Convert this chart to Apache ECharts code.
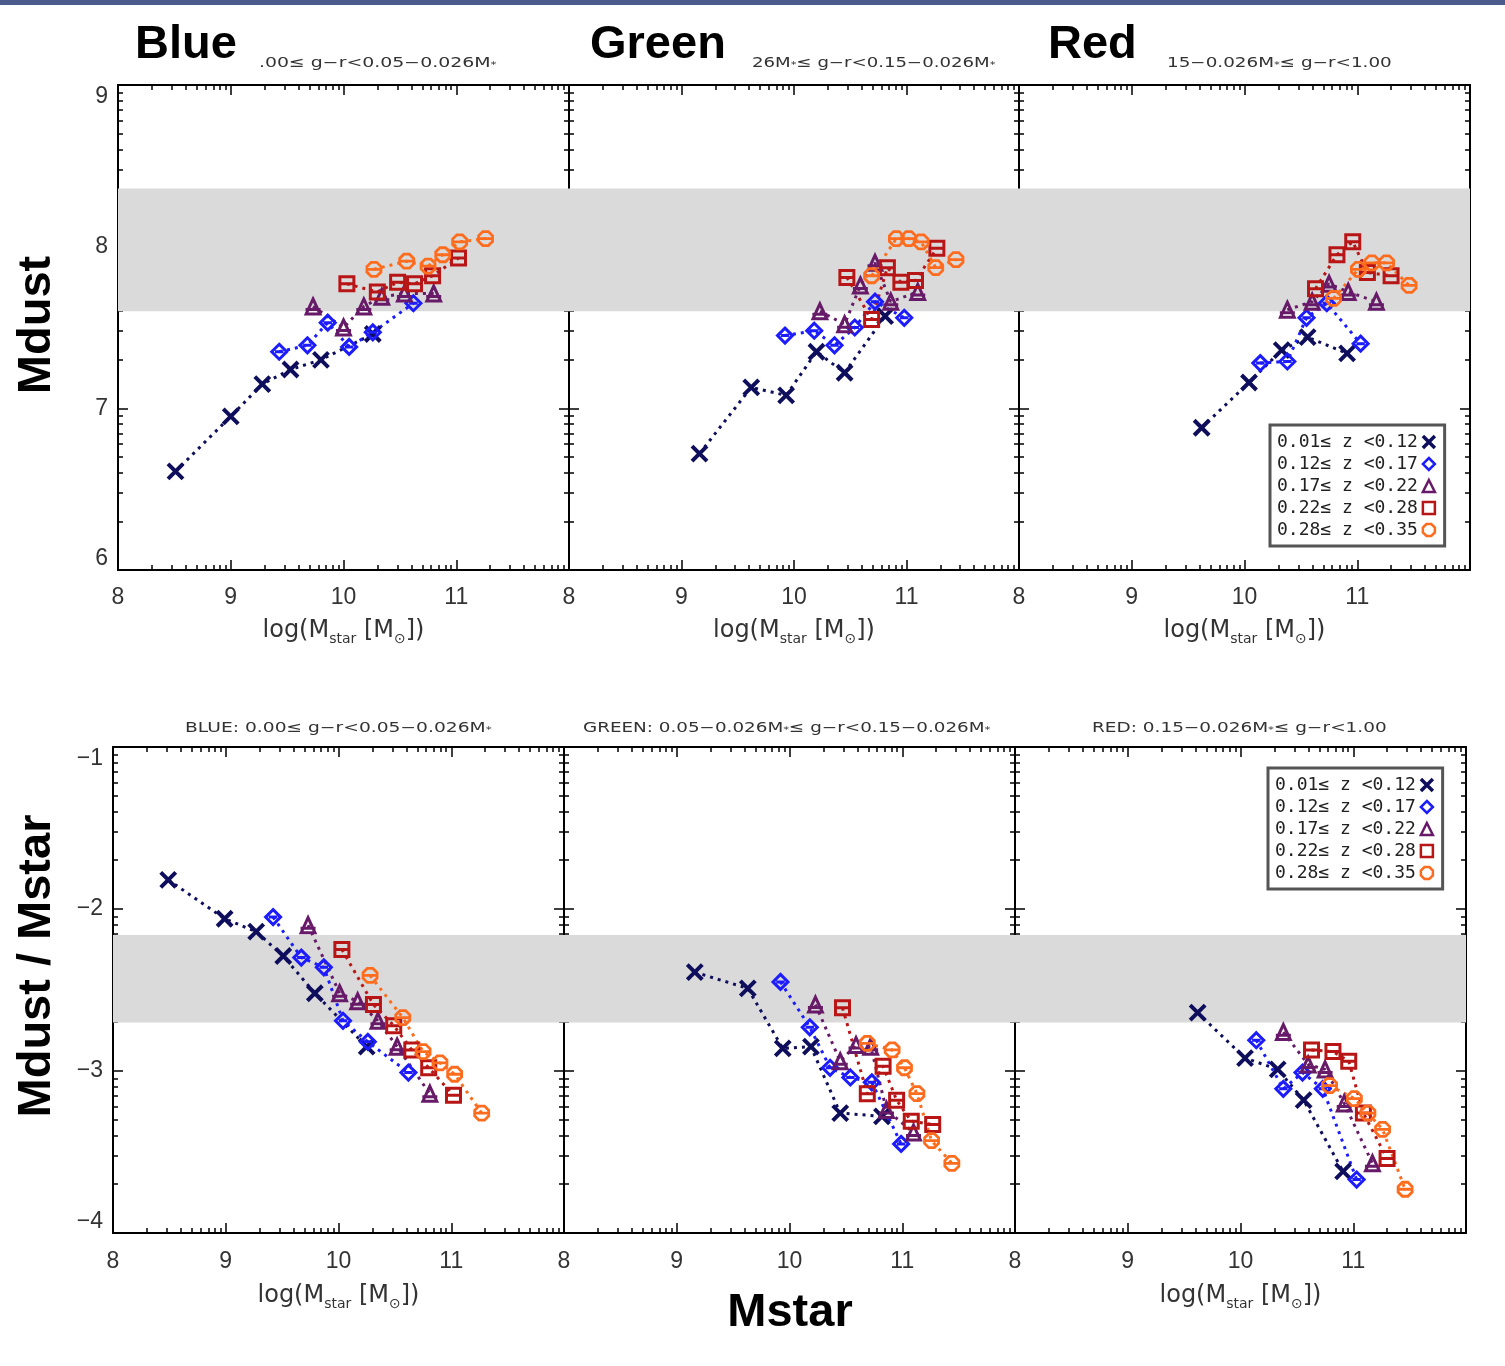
<!DOCTYPE html>
<html><head><meta charset="utf-8">
<script src="https://cdn.jsdelivr.net/npm/echarts@6/dist/echarts.min.js"></script>
<style>html,body{margin:0;padding:0;background:#fff}#c{width:1505px;height:1366px}</style>
</head><body><div id="c"></div>
<script>
// ---------------- DATA ----------------
const zBins = ['0.01\u2264 z <0.12', '0.12\u2264 z <0.17', '0.17\u2264 z <0.22', '0.22\u2264 z <0.28', '0.28\u2264 z <0.35'];
const panelNames = ['Blue', 'Green', 'Red'];
const topSubtitles = ['.00\u2264 g\u2212r<0.05\u22120.026M*', '26M*\u2264 g\u2212r<0.15\u22120.026M*', '15\u22120.026M*\u2264 g\u2212r<1.00'];
const bottomTitles = ['BLUE: 0.00\u2264 g\u2212r<0.05\u22120.026M*', 'GREEN: 0.05\u22120.026M*\u2264 g\u2212r<0.15\u22120.026M*', 'RED: 0.15\u22120.026M*\u2264 g\u2212r<1.00'];
const xTickLabels = [8, 9, 10, 11];
const xMajorTicks = [8, 9, 10, 11, 12];
const yTopTicks = [6, 7, 8, 9];
const yBottomTicks = [-4, -3, -2, -1];
const bandTop = [7.60, 8.36];
const bandBottom = [-2.70, -2.16];

// Top row: log Mstar (x) and log Mdust (y), one list per z bin
const blueTopMstar = [
  [8.51, 9.00, 9.28, 9.53, 9.80, 10.26],
  [9.43, 9.68, 9.86, 10.05, 10.26, 10.62],
  [9.73, 10.00, 10.18, 10.34, 10.54, 10.80],
  [10.03, 10.30, 10.48, 10.63, 10.79, 11.02],
  [10.27, 10.56, 10.75, 10.88, 11.03, 11.26]];
const blueTopMdust = [
  [6.61, 6.95, 7.15, 7.24, 7.30, 7.46],
  [7.35, 7.39, 7.53, 7.38, 7.47, 7.65],
  [7.63, 7.50, 7.63, 7.69, 7.71, 7.71],
  [7.77, 7.72, 7.78, 7.77, 7.82, 7.93],
  [7.86, 7.91, 7.88, 7.95, 8.03, 8.05]];
const greenTopMstar = [
  [9.16, 9.62, 9.93, 10.20, 10.45, 10.81],
  [9.92, 10.18, 10.36, 10.54, 10.72, 10.98],
  [10.23, 10.45, 10.59, 10.72, 10.86, 11.10],
  [10.47, 10.69, 10.83, 10.95, 11.08, 11.27],
  [10.69, 10.91, 11.02, 11.13, 11.26, 11.44]];
const greenTopMdust = [
  [6.72, 7.13, 7.08, 7.35, 7.22, 7.57],
  [7.45, 7.48, 7.39, 7.50, 7.66, 7.56],
  [7.60, 7.52, 7.76, 7.90, 7.66, 7.72],
  [7.81, 7.55, 7.87, 7.78, 7.79, 7.99],
  [7.82, 8.05, 8.05, 8.03, 7.87, 7.92]];
const redTopMstar = [
  [9.62, 10.04, 10.33, 10.56, 10.91],
  [10.14, 10.38, 10.55, 10.73, 11.03],
  [10.38, 10.60, 10.75, 10.92, 11.17],
  [10.63, 10.82, 10.96, 11.09, 11.30],
  [10.79, 11.01, 11.13, 11.26, 11.46]];
const redTopMdust = [
  [6.88, 7.16, 7.36, 7.44, 7.34],
  [7.28, 7.29, 7.56, 7.65, 7.40],
  [7.61, 7.66, 7.77, 7.72, 7.66],
  [7.74, 7.95, 8.03, 7.84, 7.82],
  [7.68, 7.86, 7.90, 7.90, 7.76]];

// Bottom row: log Mstar (x) and log(Mdust/Mstar) (y)
const blueBotMstar = [
  [8.49, 8.99, 9.27, 9.51, 9.79, 10.25],
  [9.42, 9.67, 9.87, 10.04, 10.26, 10.62],
  [9.73, 10.01, 10.17, 10.35, 10.52, 10.81],
  [10.03, 10.31, 10.49, 10.65, 10.80, 11.02],
  [10.28, 10.57, 10.75, 10.90, 11.03, 11.27]];
const blueBotRatio = [
  [-1.82, -2.06, -2.14, -2.29, -2.52, -2.85],
  [-2.05, -2.30, -2.36, -2.69, -2.82, -3.01],
  [-2.10, -2.52, -2.57, -2.69, -2.85, -3.14],
  [-2.25, -2.59, -2.72, -2.87, -2.98, -3.15],
  [-2.41, -2.67, -2.88, -2.95, -3.02, -3.26]];
const greenBotMstar = [
  [9.16, 9.63, 9.94, 10.19, 10.45, 10.82],
  [9.92, 10.18, 10.36, 10.54, 10.73, 10.99],
  [10.23, 10.45, 10.59, 10.72, 10.86, 11.10],
  [10.47, 10.69, 10.83, 10.95, 11.08, 11.27],
  [10.69, 10.91, 11.02, 11.13, 11.26, 11.44]];
const greenBotRatio = [
  [-2.39, -2.49, -2.86, -2.85, -3.26, -3.28],
  [-2.45, -2.73, -2.98, -3.04, -3.07, -3.45],
  [-2.59, -2.94, -2.84, -2.85, -3.24, -3.38],
  [-2.61, -3.14, -2.97, -3.18, -3.31, -3.33],
  [-2.83, -2.87, -2.98, -3.14, -3.43, -3.57]];
const redBotMstar = [
  [9.62, 10.04, 10.33, 10.56, 10.91],
  [10.14, 10.38, 10.55, 10.73, 11.03],
  [10.38, 10.60, 10.75, 10.92, 11.17],
  [10.63, 10.82, 10.96, 11.09, 11.30],
  [10.79, 11.01, 11.13, 11.26, 11.46]];
const redBotRatio = [
  [-2.64, -2.92, -2.99, -3.18, -3.62],
  [-2.81, -3.11, -3.01, -3.11, -3.67],
  [-2.76, -2.96, -2.99, -3.20, -3.57],
  [-2.87, -2.88, -2.94, -3.26, -3.54],
  [-3.09, -3.17, -3.26, -3.36, -3.73]];

// ---------------- STYLE / LAYOUT ----------------
const binColors = ['#0e0e5c', '#1c1cff', '#661a68', '#b81616', '#ff6c1e'];
const binSymbols = [
  'path://M0,0L10,10M10,0L0,10',
  'path://M5,0L10,5L5,10L0,5Z M2.2,5H7.8',
  'path://M5,0L9.6,9.4L0.4,9.4Z M0,6.6H10',
  'path://M0,0H10V10H0Z M0,5H10',
  'path://M3,0H7L10,3V7L7,10H3L0,7V3Z M1,5H9'
];
const legendIcons = [
  'path://M0,0L10,10M10,0L0,10',
  'diamond',
  'triangle',
  'rect',
  'path://M3,0H7L10,3V7L7,10H3L0,7V3Z'
];
const binSizes = [15, 15, 15, 14, 14];
const binBorder = [4, 3, 3, 3, 2.8];

const grids = [
  {left: 118, top: 85, width: 451, height: 485},
  {left: 569, top: 85, width: 450, height: 485},
  {left: 1019, top: 85, width: 451, height: 485},
  {left: 113, top: 747, width: 451, height: 486},
  {left: 564, top: 747, width: 451, height: 486},
  {left: 1015, top: 747, width: 451, height: 486}
];
const panels = [
  {mstar: blueTopMstar, val: blueTopMdust, yr: [6, 9], ticks: yTopTicks, band: bandTop},
  {mstar: greenTopMstar, val: greenTopMdust, yr: [6, 9], ticks: yTopTicks, band: bandTop},
  {mstar: redTopMstar, val: redTopMdust, yr: [6, 9], ticks: yTopTicks, band: bandTop},
  {mstar: blueBotMstar, val: blueBotRatio, yr: [-4, -1], ticks: yBottomTicks, band: bandBottom},
  {mstar: greenBotMstar, val: greenBotRatio, yr: [-4, -1], ticks: yBottomTicks, band: bandBottom},
  {mstar: redBotMstar, val: redBotRatio, yr: [-4, -1], ticks: yBottomTicks, band: bandBottom}
];

function logMinors(lo, hi) {
  const out = [];
  for (let d = lo; d < hi; d++) for (let k = 2; k <= 9; k++) out.push(d + Math.log10(k));
  return out;
}
const xMinorTicks = logMinors(8, 12);

const tickFont = 'Liberation Sans';
const xAxis = [], yAxis = [], series = [];
const axLine = {onZero: false, lineStyle: {color: '#000', width: 2}};
const tickLine = {color: '#000', width: 1.5};

panels.forEach((p, gi) => {
  const isBottomRow = gi >= 3;
  const nameRich = {
    b: {fontSize: 24, fontFamily: 'DejaVu Sans', color: '#333', lineHeight: 30, verticalAlign: 'middle'},
    s: {fontSize: 14, fontFamily: 'DejaVu Sans', color: '#333', lineHeight: 15, verticalAlign: 'bottom'}
  };
  // x axes: major bottom (labels), major top, minor x2
  xAxis.push({
    gridIndex: gi, type: 'value', min: 8, max: 12, position: 'bottom',
    axisLine: axLine, splitLine: {show: false},
    axisTick: {inside: true, length: 10, customValues: xMajorTicks, lineStyle: tickLine},
    axisLabel: {customValues: xTickLabels, fontSize: 23, fontFamily: tickFont, color: '#333', margin: isBottomRow ? 17 : 16},
    name: gi === 4 ? '' : '{b|log(M}{s|star}{b| [M}{s|\u2299}{b|])}', nameLocation: 'middle', nameGap: isBottomRow ? 48 : 46,
    nameTextStyle: {rich: nameRich}
  });
  xAxis.push({
    gridIndex: gi, type: 'value', min: 8, max: 12, position: 'top',
    axisLine: axLine, splitLine: {show: false},
    axisTick: {inside: true, length: 10, customValues: xMajorTicks, lineStyle: tickLine},
    axisLabel: {show: false}
  });
  for (let k = 0; k < 2; k++) xAxis.push({
    gridIndex: gi, type: 'value', min: 8, max: 12, position: k ? 'top' : 'bottom',
    axisLine: {show: false}, splitLine: {show: false},
    axisTick: {inside: true, length: 5, customValues: xMinorTicks, lineStyle: tickLine},
    axisLabel: {show: false}
  });
  // y axes
  const yMinor = logMinors(p.yr[0], p.yr[1]);
  const showY = (gi % 3) === 0;
  yAxis.push({
    gridIndex: gi, type: 'value', min: p.yr[0], max: p.yr[1], position: 'left',
    axisLine: axLine, splitLine: {show: false},
    axisTick: {inside: true, length: 10, customValues: p.ticks, lineStyle: tickLine},
    axisLabel: {show: showY, customValues: p.ticks, fontSize: 23, fontFamily: tickFont, color: '#333', margin: 10,
      verticalAlignMinLabel: 'bottom', verticalAlignMaxLabel: 'top',
      formatter: v => String(v).replace('-', '\u2212')}
  });
  yAxis.push({
    gridIndex: gi, type: 'value', min: p.yr[0], max: p.yr[1], position: 'right',
    axisLine: axLine, splitLine: {show: false},
    axisTick: {inside: true, length: 10, customValues: p.ticks, lineStyle: tickLine},
    axisLabel: {show: false}
  });
  for (let k = 0; k < 2; k++) yAxis.push({
    gridIndex: gi, type: 'value', min: p.yr[0], max: p.yr[1], position: k ? 'right' : 'left',
    axisLine: {show: false}, splitLine: {show: false},
    axisTick: {inside: true, length: 5, customValues: yMinor, lineStyle: tickLine},
    axisLabel: {show: false}
  });

  // grey reference band
  series.push({
    type: 'scatter', name: 'band' + gi, xAxisIndex: gi * 4, yAxisIndex: gi * 4, data: [], silent: true, z: 1,
    markArea: {silent: true, itemStyle: {color: '#dadada'}, data: [[{yAxis: p.band[0]}, {yAxis: p.band[1]}]]}
  });

  for (let b = 0; b < 5; b++) {
    const data = p.mstar[b].map((x, i) => [x, p.val[b][i]]);
    series.push({
      type: 'line', name: 'line' + gi + '_' + b, xAxisIndex: gi * 4, yAxisIndex: gi * 4,
      data: data, symbol: 'none', showSymbol: false, silent: true, z: 2,
      lineStyle: {color: binColors[b], width: 3, type: [3, 5]}
    });
  }
  for (let b = 0; b < 5; b++) {
    const data = p.mstar[b].map((x, i) => [x, p.val[b][i]]);
    series.push({
      type: 'scatter', name: zBins[b], xAxisIndex: gi * 4, yAxisIndex: gi * 4,
      data: data, symbol: binSymbols[b], symbolSize: binSizes[b], z: 3 + b,
      itemStyle: {color: 'rgba(255,255,255,0)', borderColor: binColors[b], borderWidth: binBorder[b], opacity: 1}
    });
  }
});

const legendBase = {
  data: zBins.map((n, b) => ({name: n, icon: legendIcons[b],
    itemStyle: {color: 'rgba(255,255,255,0)', borderColor: binColors[b], borderWidth: b === 0 ? 3.5 : 2.5}})),
  orient: 'vertical', align: 'right', selectedMode: false,
  itemWidth: 12, itemHeight: 12, itemGap: 4, padding: [8, 8, 7, 7],
  borderColor: '#555', borderWidth: 3, backgroundColor: '#fff',
  textStyle: {fontFamily: 'DejaVu Sans Mono', fontSize: 18, color: '#222'}
};

// text helpers
const mctx = document.createElement('canvas').getContext('2d');
function stretch(str, fontSize, targetW) {
  mctx.font = fontSize + 'px "DejaVu Sans"';
  return targetW / mctx.measureText(str).width;
}
function smallText(str, x, y, w) {
  const fs = 14;
  return {
    type: 'text', x: x, y: y, scaleX: stretch(str, fs, w), z: 20,
    style: {
      text: str.replace(/M\*/g, 'M{s|*}'), fontFamily: 'DejaVu Sans', fontSize: fs, fill: '#333',
      textVerticalAlign: 'middle', textAlign: 'left',
      rich: {s: {fontSize: 9, fontFamily: 'DejaVu Sans', fill: '#333', verticalAlign: 'bottom', lineHeight: 9}}
    }
  };
}
function bigText(str, x, y, align, rot) {
  return {
    type: 'text', x: x, y: y, rotation: rot || 0, z: 20,
    style: {text: str, fontFamily: 'Liberation Sans', fontWeight: 'bold', fontSize: 47, fill: '#000',
      textAlign: align, textVerticalAlign: 'middle'}
  };
}

const graphic = [
  {type: 'rect', shape: {x: 0, y: 0, width: 1505, height: 5}, style: {fill: '#4b5c8c'}, z: 20},
  bigText(panelNames[0], 135, 45, 'left'),
  bigText(panelNames[1], 590, 45, 'left'),
  bigText(panelNames[2], 1048, 45, 'left'),
  smallText(topSubtitles[0], 259, 63, 241),
  smallText(topSubtitles[1], 752, 63, 250),
  smallText(topSubtitles[2], 1167, 63, 228),
  smallText(bottomTitles[0], 185, 728, 310),
  smallText(bottomTitles[1], 583, 728, 414),
  smallText(bottomTitles[2], 1092, 728, 298),
  bigText('Mdust', 37, 325, 'center', Math.PI / 2),
  bigText('Mdust / Mstar', 37, 966, 'center', Math.PI / 2),
  bigText('Mstar', 790, 1313, 'center')
];

const chart = echarts.init(document.getElementById('c'), null, {renderer: 'canvas'});
chart.setOption({
  animation: false,
  backgroundColor: '#fff',
  grid: grids,
  xAxis: xAxis,
  yAxis: yAxis,
  legend: [
    Object.assign({}, legendBase, {left: 1270, top: 425}),
    Object.assign({}, legendBase, {left: 1268, top: 768})
  ],
  graphic: graphic,
  series: series
});
</script>
</body></html>
